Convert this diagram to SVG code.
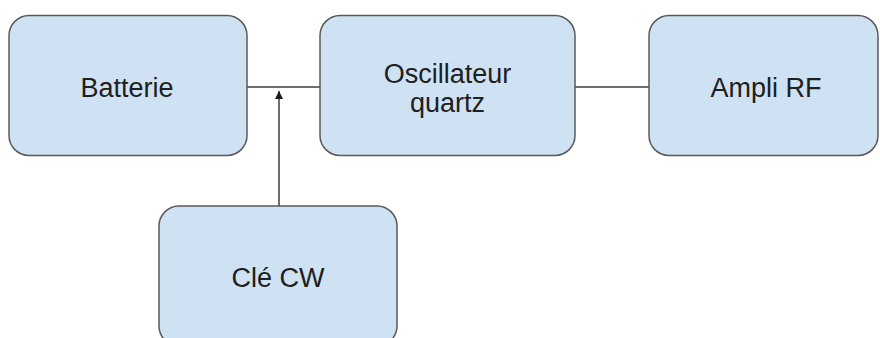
<svg xmlns="http://www.w3.org/2000/svg" width="880" height="338" viewBox="0 0 880 338">
<defs>
<style>
.box{fill:#cfe2f3;stroke:#595959;stroke-width:1.5}
.lbl{font-family:"Liberation Sans",Arial,sans-serif;font-size:27px;fill:#202020;text-anchor:middle}
.conn{stroke:#3c3c3c;stroke-width:1.5;fill:none}
</style>
<marker id="ah" viewBox="0 0 10 10" refX="10" refY="5" markerWidth="5.5" markerHeight="5.5" orient="auto" markerUnits="strokeWidth">
<path d="M0,0 L10,5 L0,10 z" fill="#1a1a1a"/>
</marker>
</defs>
<rect width="880" height="338" fill="#ffffff"/>
<g id="connectors">
<line class="conn" x1="247" y1="87" x2="320" y2="87"/>
<line class="conn" x1="575" y1="87" x2="649" y2="87"/>
<line class="conn" x1="279" y1="206" x2="279" y2="91" marker-end="url(#ah)"/>
</g>
<g id="batterie">
<rect class="box" x="9" y="15.5" width="238" height="140" rx="20"/>
<text class="lbl" x="127" y="97">Batterie</text>
</g>
<g id="oscillateur">
<rect class="box" x="320" y="15.5" width="255" height="140" rx="20"/>
<text class="lbl" x="447.5" y="83">Oscillateur</text>
<text class="lbl" x="447.5" y="112">quartz</text>
</g>
<g id="ampli">
<rect class="box" x="649" y="15.5" width="229" height="140" rx="20"/>
<text class="lbl" x="766" y="97">Ampli RF</text>
</g>
<g id="cle">
<rect class="box" x="159" y="206" width="238" height="140" rx="20"/>
<text class="lbl" x="278" y="287">Clé CW</text>
</g>
</svg>
